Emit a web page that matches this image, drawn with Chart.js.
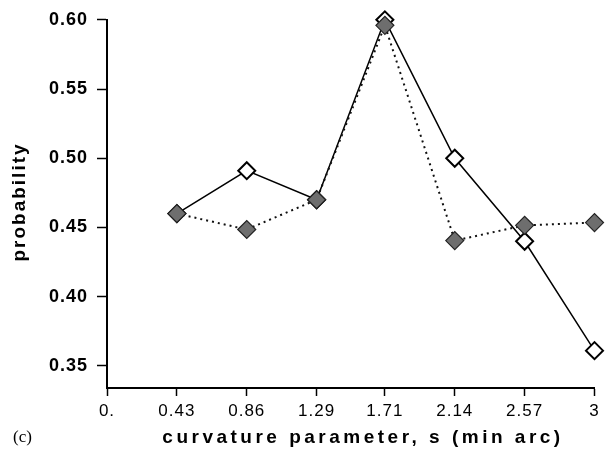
<!DOCTYPE html>
<html><head><meta charset="utf-8">
<script src="https://cdn.jsdelivr.net/npm/chart.js@4"></script>
<style>html,body{margin:0;padding:0;background:#fff}</style>
</head><body>
<canvas id="c" width="605" height="473"></canvas>
<script>
const xValues = [0.43, 0.86, 1.29, 1.71, 2.14, 2.57, 3];
const solidSeries = [0.46, 0.491, 0.47, 0.60, 0.50, 0.44, 0.361];
const dottedSeries = [0.46, 0.4485, 0.47, 0.596, 0.4405, 0.4515, 0.4535];
const xTicks = [0, 0.43, 0.86, 1.29, 1.71, 2.14, 2.57, 3];
const xTickLabels = ['0.', '0.43', '0.86', '1.29', '1.71', '2.14', '2.57', '3'];
const yTicks = [0.35, 0.40, 0.45, 0.50, 0.55, 0.60];
const yTickLabels = ['0.35', '0.40', '0.45', '0.50', '0.55', '0.60'];
const xTitle = 'curvature parameter, s (min arc)';
const yTitle = 'probability';
const panelLabel = '(c)';

const toPts = arr => arr.map((v, i) => ({x: xValues[i], y: v}));

const textPlugin = {
  id: 'texts',
  beforeDraw(chart) { chart.ctx.letterSpacing = '1px'; },
  afterDraw(chart) {
    const ctx = chart.ctx;
    const ca = chart.chartArea;
    ctx.save();
    ctx.fillStyle = '#000';
    ctx.textBaseline = 'middle';
    ctx.textAlign = 'center';
    ctx.font = 'bold 19px "Liberation Sans", Arial, sans-serif';
    ctx.letterSpacing = '3.5px';
    ctx.fillText(xTitle, 363, 438);
    ctx.save();
    ctx.translate(20, 202);
    ctx.rotate(-Math.PI / 2);
    ctx.font = 'bold 19px "Liberation Sans", Arial, sans-serif';
    ctx.letterSpacing = '2px';
    ctx.fillText(yTitle, 0, 0);
    ctx.restore();
    ctx.letterSpacing = '0px';
    ctx.textAlign = 'left';
    ctx.font = '17px "Liberation Serif", "Times New Roman", serif';
    ctx.fillText(panelLabel, 13, 438);
    ctx.restore();
  }
};

new Chart(document.getElementById('c'), {
  type: 'line',
  data: {
    datasets: [
      {
        data: toPts(dottedSeries),
        borderColor: '#111', borderWidth: 2, borderDash: [2, 4],
        pointStyle: 'rectRot', pointRadius: 9,
        pointBackgroundColor: '#6e6e6e', pointBorderColor: '#222', pointBorderWidth: 1.2,
        clip: false, tension: 0
      },
      {
        data: toPts(solidSeries),
        borderColor: '#000', borderWidth: 1.5,
        pointStyle: 'rectRot', pointRadius: 8.5,
        pointBackgroundColor: '#fff', pointBorderColor: '#000', pointBorderWidth: 2,
        clip: false, tension: 0
      }
    ]
  },
  options: {
    responsive: false,
    animation: false,
    layout: {padding: {top: 19, right: 9, left: 0, bottom: 0}},
    plugins: {legend: {display: false}, tooltip: {enabled: false}},
    scales: {
      x: {
        type: 'linear', min: 0, max: 3,
        afterBuildTicks: a => { a.ticks = xTicks.map(v => ({value: v})); },
        afterFit: s => { s.height = 85; },
        ticks: {
          callback: (v, i) => xTickLabels[i],
          font: {family: '"Liberation Sans", Arial, sans-serif', size: 17},
          color: '#000', padding: 5, maxRotation: 0, autoSkip: false
        },
        grid: {drawOnChartArea: false, tickLength: 8, tickColor: '#000', tickWidth: 1.5},
        border: {color: '#000', width: 2}
      },
      y: {
        min: 0.334, max: 0.60,
        afterBuildTicks: a => { a.ticks = yTicks.map(v => ({value: v})); },
        afterFit: s => { s.width = 107; },
        ticks: {
          callback: (v, i) => yTickLabels[i],
          font: {family: '"Liberation Sans", Arial, sans-serif', size: 18, weight: 'bold'},
          color: '#000', padding: 9, autoSkip: false
        },
        grid: {drawOnChartArea: false, tickLength: 10, tickColor: '#000', tickWidth: 1.5},
        border: {color: '#000', width: 2}
      }
    }
  },
  plugins: [textPlugin]
});
</script>
</body></html>
